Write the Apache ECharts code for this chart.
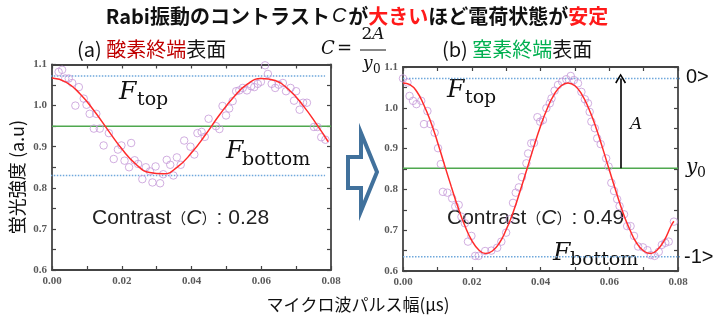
<!DOCTYPE html>
<html><head><meta charset="utf-8">
<script src="https://cdn.jsdelivr.net/npm/echarts@6/dist/echarts.min.js"></script>
<style>html,body{margin:0;padding:0;background:#fff}#c{width:716px;height:327px}</style>
</head><body><div id="c"></div>
<script>
// ---- data ----
const leftPoints = [[0.0019,1.082],[0.0029,1.087],[0.0038,1.066],[0.0048,1.066],[0.0058,1.055],[0.0067,1.000],[0.0077,1.045],[0.0091,1.017],[0.0099,1.002],[0.0108,0.980],[0.0120,0.944],[0.0127,0.980],[0.0137,0.944],[0.0148,0.903],[0.0163,0.933],[0.0177,0.870],[0.0189,0.893],[0.0199,0.903],[0.0208,0.866],[0.0221,0.850],[0.0227,0.909],[0.0237,0.867],[0.0247,0.858],[0.0259,0.821],[0.0269,0.850],[0.0281,0.840],[0.0288,0.813],[0.0297,0.852],[0.0310,0.811],[0.0319,0.833],[0.0329,0.868],[0.0339,0.856],[0.0348,0.830],[0.0358,0.874],[0.0369,0.856],[0.0379,0.915],[0.0397,0.900],[0.0408,0.881],[0.0417,0.933],[0.0429,0.936],[0.0438,0.924],[0.0449,0.968],[0.0470,0.950],[0.0480,0.943],[0.0489,0.999],[0.0499,0.976],[0.0508,0.993],[0.0518,1.011],[0.0528,1.035],[0.0537,1.037],[0.0547,1.043],[0.0559,1.037],[0.0571,1.047],[0.0580,1.045],[0.0590,1.053],[0.0599,1.058],[0.0611,1.098],[0.0619,1.077],[0.0630,1.053],[0.0640,1.043],[0.0650,1.051],[0.0662,1.055],[0.0671,1.035],[0.0684,1.043],[0.0694,1.012],[0.0700,1.035],[0.0710,0.990],[0.0720,1.007],[0.0731,1.007],[0.0751,0.948],[0.0761,0.948],[0.0772,0.923],[0.0784,0.917]];
const leftFit = [[0,1.067],[0.004,1.057],[0.008,1.029],[0.012,0.988],[0.016,0.941],[0.020,0.895],[0.024,0.858],[0.028,0.837],[0.032,0.834],[0.036,0.851],[0.040,0.885],[0.044,0.929],[0.048,0.977],[0.052,1.020],[0.056,1.052],[0.060,1.066],[0.064,1.061],[0.068,1.038],[0.072,1.000],[0.076,0.953],[0.0792,0.912]];
const rightPoints = [[0.0000,1.072],[0.0013,1.062],[0.0019,1.029],[0.0029,1.017],[0.0039,1.009],[0.0053,1.017],[0.0071,0.992],[0.0061,0.960],[0.0080,0.960],[0.0092,0.939],[0.0102,0.901],[0.0110,0.862],[0.0116,0.794],[0.0129,0.792],[0.0143,0.778],[0.0152,0.758],[0.0162,0.762],[0.0170,0.733],[0.0180,0.717],[0.0189,0.672],[0.0199,0.686],[0.0210,0.637],[0.0220,0.637],[0.0239,0.649],[0.0257,0.650],[0.0274,0.657],[0.0286,0.672],[0.0300,0.694],[0.0310,0.727],[0.0320,0.767],[0.0328,0.792],[0.0337,0.805],[0.0346,0.830],[0.0359,0.864],[0.0364,0.888],[0.0373,0.913],[0.0381,0.914],[0.0391,0.977],[0.0399,0.966],[0.0407,0.970],[0.0417,0.999],[0.0427,1.011],[0.0432,1.023],[0.0441,1.042],[0.0451,1.056],[0.0463,1.064],[0.0475,1.070],[0.0488,1.078],[0.0497,1.068],[0.0509,1.060],[0.0519,1.039],[0.0529,1.021],[0.0538,1.011],[0.0543,0.990],[0.0548,0.966],[0.0558,0.950],[0.0565,0.925],[0.0575,0.911],[0.0591,0.876],[0.0598,0.856],[0.0606,0.816],[0.0614,0.796],[0.0623,0.776],[0.0630,0.759],[0.0643,0.739],[0.0652,0.710],[0.0662,0.710],[0.0672,0.686],[0.0684,0.660],[0.0698,0.658],[0.0711,0.651],[0.0721,0.639],[0.0732,0.637],[0.0744,0.647],[0.0753,0.664],[0.0763,0.669],[0.0773,0.672],[0.0788,0.721]];
const rightFit = [[0,1.061],[0.002,1.057],[0.004,1.040],[0.006,1.008],[0.008,0.967],[0.010,0.917],[0.012,0.862],[0.014,0.808],[0.016,0.756],[0.018,0.711],[0.020,0.675],[0.022,0.652],[0.024,0.643],[0.026,0.649],[0.028,0.668],[0.030,0.701],[0.032,0.743],[0.034,0.794],[0.036,0.848],[0.038,0.903],[0.040,0.955],[0.042,0.999],[0.044,1.033],[0.046,1.054],[0.048,1.061],[0.050,1.054],[0.052,1.033],[0.054,0.999],[0.056,0.955],[0.058,0.903],[0.060,0.848],[0.062,0.794],[0.064,0.743],[0.066,0.701],[0.068,0.668],[0.070,0.649],[0.072,0.643],[0.074,0.652],[0.076,0.675],[0.078,0.711],[0.0788,0.722]];
const leftLevels = {top:1.072, mid:0.950, bottom:0.830};
const rightLevels = {top:1.072, mid:0.852, bottom:0.635};
const leftDotSpan = [-0.0012, 0.0783];
const rightDotSpan = [0, 0.0806];
const fullSpan = [0, 0.08];
const arrowX = 0.0633;
const xRange = [0, 0.08], xStep = 0.02;
const yRange = [0.6, 1.1], yStep = 0.1;

// ---- chart ----
const chart = echarts.init(document.getElementById('c'), null, {renderer:'canvas'});
const frame = '#444';
function xAx(grid, pos, labels){
  return {type:'value', gridIndex:grid, position:pos, min:xRange[0], max:xRange[1], interval:xStep,
    axisLine:{show:true, onZero:false, lineStyle:{color:frame, width:1.8}},
    axisTick:{show:true, inside:true, length:4, lineStyle:{color:frame, width:1.2}},
    minorTick:{show:true, splitNumber:2, length:4, lineStyle:{color:frame, width:1.2}},
    splitLine:{show:false},
    axisLabel:{show:labels, margin:6, color:'#5a5a5a', fontFamily:'Liberation Serif', fontSize:11, fontWeight:'bold', formatter:v=>v.toFixed(2)}};
}
function yAx(grid, pos, labels){
  return {type:'value', gridIndex:grid, position:pos, min:yRange[0], max:yRange[1], interval:yStep,
    axisLine:{show:true, onZero:false, lineStyle:{color:frame, width:1.8}},
    axisTick:{show:true, inside:true, length:4, lineStyle:{color:frame, width:1.2}},
    minorTick:{show:true, splitNumber:2, length:4, lineStyle:{color:frame, width:1.2}},
    splitLine:{show:false},
    axisLabel:{show:labels, margin:5, color:'#5a5a5a', fontFamily:'Liberation Serif', fontSize:11, fontWeight:'bold', formatter:v=>v.toFixed(1)}};
}
function hline(xi, yi, span, val, color, type, z){
  return {type:'line', xAxisIndex:xi, yAxisIndex:yi, data:[[span[0],val],[span[1],val]], showSymbol:false, symbol:'none', clip:false, silent:true, z:z,
    lineStyle:{color:color, width:1.5, type:type}};
}
const scatterStyle = {color:'rgba(0,0,0,0)', borderColor:'#c59ad8', borderWidth:1};
const fitStyle = {color:'#ff2b2b', width:1.5};

const series = [
  hline(0,0,fullSpan,leftLevels.mid,'#4fa84f','solid',2),
  hline(0,0,leftDotSpan,leftLevels.top,'#6fa8dc','dotted',2),
  hline(0,0,leftDotSpan,leftLevels.bottom,'#6fa8dc','dotted',2),
  {type:'scatter', xAxisIndex:0, yAxisIndex:0, data:leftPoints, symbol:'circle', symbolSize:7.5, itemStyle:scatterStyle, z:3, silent:true},
  {type:'line', xAxisIndex:0, yAxisIndex:0, data:leftFit, smooth:true, showSymbol:false, symbol:'none', lineStyle:fitStyle, z:4, silent:true},
  hline(2,2,fullSpan,rightLevels.mid,'#4fa84f','solid',2),
  hline(2,2,rightDotSpan,rightLevels.top,'#6fa8dc','dotted',2),
  hline(2,2,rightDotSpan,rightLevels.bottom,'#6fa8dc','dotted',2),
  {type:'scatter', xAxisIndex:2, yAxisIndex:2, data:rightPoints, symbol:'circle', symbolSize:7.5, itemStyle:scatterStyle, z:3, silent:true},
  {type:'line', xAxisIndex:2, yAxisIndex:2, data:rightFit, smooth:true, showSymbol:false, symbol:'none', lineStyle:fitStyle, z:4, silent:true,
    markLine:{silent:true, animation:false, label:{show:false}, lineStyle:{color:'#000', width:1.6, type:'solid'},
      data:[[{coord:[arrowX, rightLevels.mid], symbol:'none'},{coord:[arrowX, rightLevels.top], symbol:'path://M0,10 L6,0 L12,10 L10.5,11 L6,3.2 L1.5,11 Z', symbolSize:[11,10]}]]}}
];

const serif = 'DejaVu Serif';
function txt(x,y,text,font,color,align,va,extra){
  return Object.assign({type:'text', x:x, y:y, silent:true, style:{text:text, font:font, fill:color||'#111', align:align||'left', verticalAlign:va||'middle'}}, extra||{});
}
const graphic = [
  {type:'text', x:357, y:16, silent:true, style:{align:'center', verticalAlign:'middle',
    text:'{b|Rabi振動のコントラスト}{i|C}{b|が}{r|大きい}{b|ほど電荷状態が}{r|安定}',
    rich:{b:{fontFamily:'Noto Sans CJK JP', fontWeight:'bold', fontSize:20, fill:'#111'},
          r:{fontFamily:'Noto Sans CJK JP', fontWeight:'bold', fontSize:20, fill:'#ff1a1a'},
          i:{fontFamily:'Liberation Sans', fontStyle:'italic', fontSize:20, fill:'#111', padding:[0,2,0,2]}}}},
  {type:'text', x:77, y:49, silent:true, style:{align:'left', verticalAlign:'middle',
    text:'{k|(a) }{r|酸素終端}{k|表面}',
    rich:{k:{fontFamily:'Noto Sans CJK JP', fontSize:20, fill:'#111'}, r:{fontFamily:'Noto Sans CJK JP', fontSize:20, fill:'#c00000'}}}},
  {type:'text', x:442, y:49, silent:true, style:{align:'left', verticalAlign:'middle',
    text:'{k|(b) }{g|窒素終端}{k|表面}',
    rich:{k:{fontFamily:'Noto Sans CJK JP', fontSize:20, fill:'#111'}, g:{fontFamily:'Noto Sans CJK JP', fontSize:20, fill:'#00b050'}}}},
  txt(321,49,'C','italic 18px '+serif,'#111'),
  txt(337,49,'=','18px '+serif,'#111'),
  {type:'text', x:373, y:35, silent:true, style:{align:'center', verticalAlign:'middle', text:'{n|2}{a|A}',
    rich:{n:{fontFamily:serif, fontSize:17, fill:'#111'}, a:{fontFamily:serif, fontStyle:'italic', fontSize:17, fill:'#111'}}}},
  {type:'line', silent:true, shape:{x1:360, y1:50, x2:386, y2:50}, style:{stroke:'#111', lineWidth:1}},
  txt(363,64,'y','italic 17px '+serif,'#111'),
  txt(373,70,'0','12px '+serif,'#111'),
  txt(119,92,'F','italic 25px '+serif,'#111'),
  txt(137,100,'top','19px '+serif,'#111'),
  txt(226,151,'F','italic 25px '+serif,'#111'),
  txt(242,160,'bottom','19px '+serif,'#111'),
  {type:'text', x:92, y:218, silent:true, style:{align:'left', verticalAlign:'middle', text:'{a|Contrast}{p|（}{c|C}{p|）}{a|: 0.28}',
    rich:{a:{fontFamily:'Liberation Sans', fontSize:21, fill:'#222'}, p:{fontFamily:'Noto Sans CJK JP', fontSize:15, fill:'#222'}, c:{fontFamily:'Liberation Sans', fontStyle:'italic', fontSize:21, fill:'#222'}}}},
  txt(447,90,'F','italic 25px '+serif,'#111'),
  txt(465,98,'top','19px '+serif,'#111'),
  txt(553,253,'F','italic 25px '+serif,'#111'),
  txt(570,260,'bottom','19px '+serif,'#111'),
  {type:'text', x:447, y:218, silent:true, style:{align:'left', verticalAlign:'middle', text:'{a|Contrast}{p|（}{c|C}{p|）}{a|: 0.49}',
    rich:{a:{fontFamily:'Liberation Sans', fontSize:21, fill:'#222'}, p:{fontFamily:'Noto Sans CJK JP', fontSize:15, fill:'#222'}, c:{fontFamily:'Liberation Sans', fontStyle:'italic', fontSize:21, fill:'#222'}}}},
  txt(630,125,'A','italic 17px '+serif,'#111'),
  txt(686,77,'0>','20px Liberation Sans','#111'),
  txt(686,168,'y','italic 20px '+serif,'#111'),
  txt(697,173,'0','14px '+serif,'#111'),
  txt(684,257,'-1>','20px Liberation Sans','#111'),
  txt(17,177,'蛍光強度 (a.u)','18px Noto Sans CJK JP','#111','center','middle',{rotation:Math.PI/2}),
  txt(358,305,'マイクロ波パルス幅(μs)','17px Noto Sans CJK JP','#111','center','middle'),
  {type:'polygon', silent:true, shape:{points:[[348,157],[361,157],[361,133],[377,172],[361,211],[361,188],[348,188]]},
    style:{fill:'rgba(0,0,0,0)', stroke:'#41719c', lineWidth:4, lineJoin:'miter'}}
];

chart.setOption({
  animation:false,
  grid:[{left:52, top:64.5, width:279, height:205.5, containLabel:false},
        {left:403, top:67, width:275, height:204, containLabel:false}],
  xAxis:[xAx(0,'bottom',true), xAx(0,'top',false), xAx(1,'bottom',true), xAx(1,'top',false)],
  yAxis:[yAx(0,'left',true), yAx(0,'right',false), yAx(1,'left',true), yAx(1,'right',false)],
  series:series,
  graphic:graphic
});
</script></body></html>
